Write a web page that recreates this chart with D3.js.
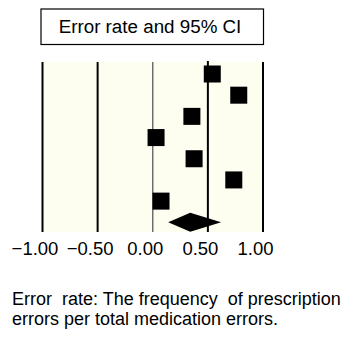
<!DOCTYPE html>
<html><head><meta charset="utf-8">
<script src="https://cdn.jsdelivr.net/npm/d3@7"></script>
<style>body{margin:0;background:#fff}svg{display:block}text{font-family:"Liberation Sans",Arial,sans-serif}</style>
</head><body>
<svg id="c" width="350" height="337"></svg>
<script>
const title = "Error rate and 95% CI";
const studies = ["S1","S2","S3","S4","S5","S6","S7"];
const estimates = [0.54, 0.78, 0.355, 0.03, 0.375, 0.735, 0.075];
const pooledEstimate = 0.34, pooledLower = 0.14, pooledUpper = 0.62;
const tickValues = [-1, -0.5, 0, 0.5, 1];
const tickLabels = ["\u22121.00", "\u22120.50", "0.00", "0.50", "1.00"];
const footnote = ["Error  rate: The frequency  of prescription", "errors per total medication errors."];

const svg = d3.select("#c");
const x = d3.scaleLinear().domain([-1, 1]).range([42.5, 263]);
const rows = studies.concat(["Pooled"]);
const y = d3.scalePoint().domain(rows).range([74, 222.3]);
const plotTop = 62, plotBottom = 232;

svg.append("rect").attr("x", 41).attr("y", 9).attr("width", 222.5).attr("height", 35.5)
  .attr("fill", "#fff").attr("stroke", "#000").attr("stroke-width", 1.2);
svg.append("text").attr("x", 150).attr("y", 33.3).attr("text-anchor", "middle")
  .attr("font-size", 18.8).text(title);

svg.append("rect").attr("x", x(-1)).attr("y", plotTop).attr("width", x(1) - x(-1)).attr("height", plotBottom - plotTop)
  .attr("fill", "#fdfdf0");

svg.selectAll("line.grid").data(tickValues).enter().append("line")
  .attr("x1", d => x(d)).attr("x2", d => x(d))
  .attr("y1", d => d === 0.5 ? plotTop - 1 : plotTop).attr("y2", plotBottom)
  .attr("stroke", d => d === 0 ? "#666" : "#000")
  .attr("stroke-width", d => d === 0 ? 1.4 : 2);

const axis = d3.axisBottom(x).tickValues(tickValues).tickFormat((d, i) => tickLabels[i]).tickSize(0).tickPadding(0);
const g = svg.append("g").attr("transform", `translate(0,${plotBottom})`).call(axis);
g.select(".domain").remove();
g.selectAll("text").attr("font-size", 18.5).attr("fill", "#000").attr("dy", null).attr("y", 23).attr("x", -8);

const s = 17;
svg.selectAll("rect.pt").data(estimates).enter().append("rect")
  .attr("x", d => x(d) - s / 2).attr("y", (d, i) => y(studies[i]) - s / 2)
  .attr("width", s).attr("height", s).attr("fill", "#000");

const py = y("Pooled");
svg.append("path").attr("fill", "#000")
  .attr("d", `M${x(pooledLower)},${py} L${x(pooledEstimate)},${py - 9.5} L${x(pooledUpper)},${py} L${x(pooledEstimate)},${py + 9.5} Z`);

svg.selectAll("text.fn").data(footnote).enter().append("text")
  .attr("x", 12).attr("y", (d, i) => 305 + i * 19.5)
  .style("white-space", "pre")
  .attr("font-size", 18).attr("fill", "#000").text(d => d);
</script>
</body></html>
